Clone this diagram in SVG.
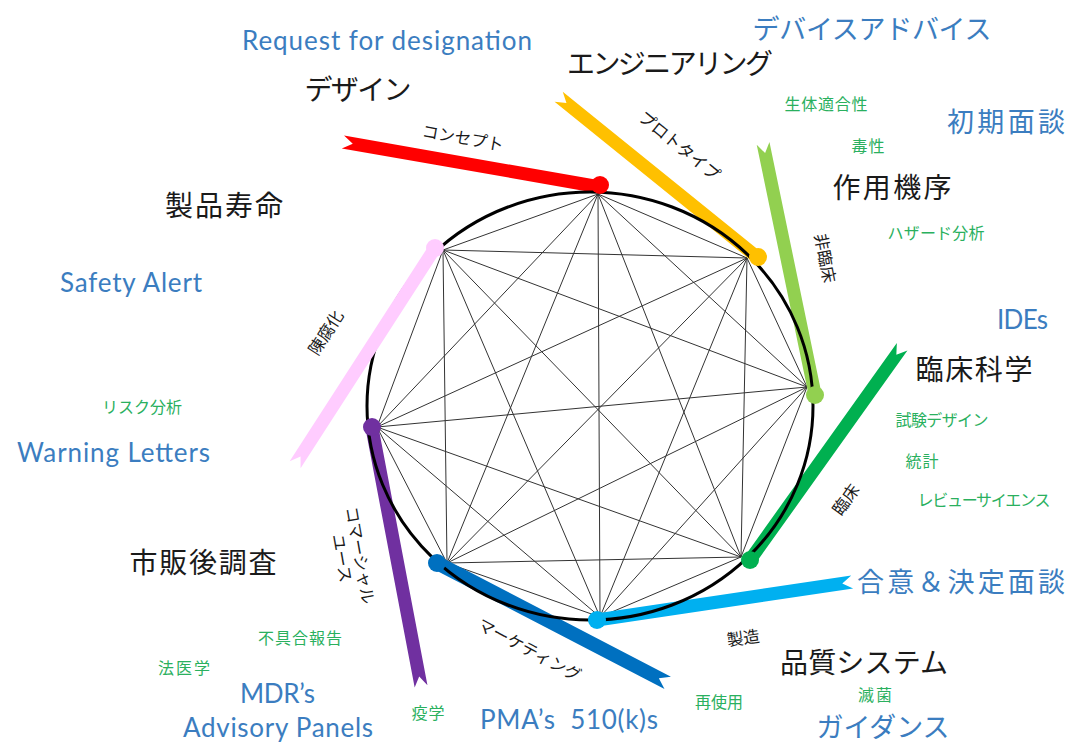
<svg xmlns="http://www.w3.org/2000/svg" width="1070" height="744" viewBox="0 0 1070 744">
<defs>
<style>
.jp{font-family:"Noto Sans CJK JP","Noto Sans CJK SC",sans-serif;text-anchor:middle;dominant-baseline:central}
.head{font-size:28px;fill:#1a1a1a}
.bj{font-size:27px;fill:#3B7DC0}
.bl{font-family:Lato,"Liberation Sans",sans-serif;font-size:26px;fill:#3B7DC0}
.gr{font-size:16px;fill:#2AB05E}
.sm{font-size:16.5px;fill:#1a1a1a}
.edge{stroke:#333;stroke-width:1;fill:none}
</style>
</defs>
<rect width="1070" height="744" fill="#fff"/>
<g id="connectors">
<line class="edge" x1="598" y1="194" x2="747" y2="258"/>
<line class="edge" x1="598" y1="194" x2="807" y2="387"/>
<line class="edge" x1="598" y1="194" x2="741" y2="557"/>
<line class="edge" x1="598" y1="194" x2="600" y2="617"/>
<line class="edge" x1="598" y1="194" x2="447" y2="563"/>
<line class="edge" x1="598" y1="194" x2="377" y2="427"/>
<line class="edge" x1="598" y1="194" x2="443" y2="250"/>
<line class="edge" x1="747" y1="258" x2="807" y2="387"/>
<line class="edge" x1="747" y1="258" x2="741" y2="557"/>
<line class="edge" x1="747" y1="258" x2="600" y2="617"/>
<line class="edge" x1="747" y1="258" x2="447" y2="563"/>
<line class="edge" x1="747" y1="258" x2="377" y2="427"/>
<line class="edge" x1="747" y1="258" x2="443" y2="250"/>
<line class="edge" x1="807" y1="387" x2="741" y2="557"/>
<line class="edge" x1="807" y1="387" x2="600" y2="617"/>
<line class="edge" x1="807" y1="387" x2="447" y2="563"/>
<line class="edge" x1="807" y1="387" x2="377" y2="427"/>
<line class="edge" x1="807" y1="387" x2="443" y2="250"/>
<line class="edge" x1="741" y1="557" x2="600" y2="617"/>
<line class="edge" x1="741" y1="557" x2="447" y2="563"/>
<line class="edge" x1="741" y1="557" x2="377" y2="427"/>
<line class="edge" x1="741" y1="557" x2="443" y2="250"/>
<line class="edge" x1="600" y1="617" x2="447" y2="563"/>
<line class="edge" x1="600" y1="617" x2="377" y2="427"/>
<line class="edge" x1="600" y1="617" x2="443" y2="250"/>
<line class="edge" x1="447" y1="563" x2="377" y2="427"/>
<line class="edge" x1="447" y1="563" x2="443" y2="250"/>
<line class="edge" x1="377" y1="427" x2="443" y2="250"/>
</g>
<g id="band-concept"><path fill="#FF0000" transform="translate(600,187) rotate(-170.07)" d="M0,-6.5H261L251,0L261,6.5H0Z"/></g>
<g id="band-proto"><path fill="#FFC000" transform="translate(757,257) rotate(218.94)" d="M0,-6.5H255L245,0L255,6.5H0Z"/></g>
<g id="band-nonclin"><path fill="#92D050" transform="translate(815,394) rotate(258.3)" d="M0,-6.5H256L246,0L256,6.5H0Z"/></g>
<g id="band-clin"><path fill="#00B050" transform="translate(750,560) rotate(-54.5)" d="M0,-6.5H262L252,0L262,6.5H0Z"/></g>
<g id="band-mfg"><path fill="#00B0F0" transform="translate(597,620) rotate(-8.48)" d="M0,-6.5H258L248,0L258,6.5H0Z"/></g>
<g id="band-mkt"><path fill="#0070C0" transform="translate(437,563) rotate(27.45)" d="M0,-7H260L250,0L260,7H0Z"/></g>
<g id="band-comm"><path fill="#7030A0" transform="translate(372,428) rotate(79.25)" d="M0,-6.5H263L253,0L263,6.5H0Z"/></g>
<ellipse id="circle" cx="590" cy="406" rx="223" ry="214" fill="none" stroke="#000" stroke-width="3"/>
<g id="band-obs"><path fill="#FFCCFF" transform="translate(435,248) rotate(122.83)" d="M0,-6.5H258L248,0L258,6.5H0Z"/></g>
<g id="dots">
<circle cx="600" cy="185" r="9" fill="#FF0000"/>
<circle cx="758" cy="257" r="9" fill="#FFC000"/>
<circle cx="815" cy="395" r="9" fill="#92D050"/>
<circle cx="750" cy="560" r="9" fill="#00B050"/>
<circle cx="597" cy="620" r="9" fill="#00B0F0"/>
<circle cx="437" cy="563" r="9" fill="#0070C0"/>
<circle cx="372" cy="427" r="9" fill="#7030A0"/>
<circle cx="435" cy="248" r="9" fill="#FFCCFF"/>
</g>
<g id="n-design"><text class="jp head" x="358" y="88" textLength="107">デザイン</text></g>
<g id="n-eng"><text class="jp head" x="670" y="62" textLength="206">エンジニアリング</text></g>
<g id="n-moa"><text class="jp head" x="892" y="186" textLength="119">作用機序</text></g>
<g id="n-life"><text class="jp head" x="224" y="204" textLength="118">製品寿命</text></g>
<g id="n-clinsci"><text class="jp head" x="974" y="368" textLength="117">臨床科学</text></g>
<g id="n-pms"><text class="jp head" x="203" y="561" textLength="147">市販後調査</text></g>
<g id="n-qs"><text class="jp head" x="864" y="661" textLength="168">品質システム</text></g>
<g id="b-advice"><text class="jp bj" x="872" y="27" textLength="239">デバイスアドバイス</text></g>
<g id="b-initial"><text class="jp bj" x="1006" y="120" textLength="118">初期面談</text></g>
<g id="b-agree"><text class="jp bj" x="961" y="580" textLength="208">合意＆決定面談</text></g>
<g id="b-guid"><text class="jp bj" x="883" y="725" textLength="133">ガイダンス</text></g>
<g id="b-rfd"><text class="bl" x="242" y="50" textLength="290">Request for designation</text></g>
<g id="b-safety"><text class="bl" x="60" y="292" textLength="142">Safety Alert</text></g>
<g id="b-warn"><text class="bl" x="17" y="462" textLength="193">Warning Letters</text></g>
<g id="b-ides"><text class="bl" x="997" y="329" textLength="51">IDEs</text></g>
<g id="b-mdr"><text class="bl" x="240" y="703" textLength="75">MDR’s</text></g>
<g id="b-adv"><text class="bl" x="183" y="737" textLength="190">Advisory Panels</text></g>
<g id="b-pma"><text class="bl" x="480" y="729" textLength="178" xml:space="preserve">PMA’s  510(k)s</text></g>
<g id="g-labels">
<text class="jp gr" x="826" y="103" textLength="83">生体適合性</text>
<text class="jp gr" x="868" y="145" textLength="33">毒性</text>
<text class="jp gr" x="936" y="232" textLength="97">ハザード分析</text>
<text class="jp gr" x="942" y="419" textLength="93">試験デザイン</text>
<text class="jp gr" x="922" y="460" textLength="33">統計</text>
<text class="jp gr" x="984" y="499" textLength="133">レビューサイエンス</text>
<text class="jp gr" x="875" y="693.5" textLength="34">滅菌</text>
<text class="jp gr" x="719" y="701" textLength="48">再使用</text>
<text class="jp gr" x="428" y="712" textLength="33">疫学</text>
<text class="jp gr" x="300" y="637" textLength="84">不具合報告</text>
<text class="jp gr" x="184" y="667" textLength="52">法医学</text>
<text class="jp gr" x="142" y="406" textLength="80">リスク分析</text>
</g>
<g id="s-labels">
<text class="jp sm" transform="translate(463,137) rotate(10)">コンセプト</text>
<text class="jp sm" transform="translate(680,145) rotate(39)">プロトタイプ</text>
<text class="jp sm" transform="translate(826,258) rotate(79)">非臨床</text>
<text class="jp sm" transform="translate(845,499) rotate(-54)">臨床</text>
<text class="jp sm" transform="translate(743,637) rotate(-8)">製造</text>
<text class="jp sm" transform="translate(530,649) rotate(28)">マーケティング</text>
<text class="jp sm" transform="translate(361,555) rotate(80)">コマーシャル</text>
<text class="jp sm" transform="translate(343,558) rotate(80)">ユース</text>
<text class="jp sm" transform="translate(325,332) rotate(-57)">陳腐化</text>
</g>
</svg>
